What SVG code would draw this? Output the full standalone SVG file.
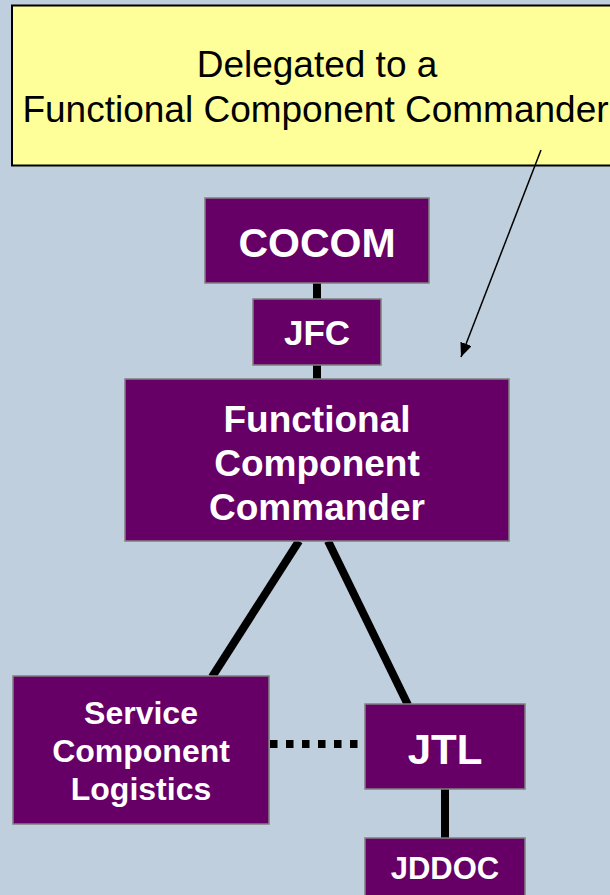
<svg xmlns="http://www.w3.org/2000/svg" width="610" height="895" viewBox="0 0 610 895">
<defs>
<style>
.node rect{fill:#660066;stroke:#808080;stroke-width:1.5}
.node text{fill:#ffffff;font-family:"Liberation Sans",Arial,sans-serif;font-weight:bold;text-anchor:middle}
.conn{stroke:#000000;stroke-width:8;fill:none}
.note text{fill:#000000;font-family:"Liberation Sans",Arial,sans-serif;font-size:37px;text-anchor:middle}
</style>
<marker id="ah" viewBox="0 0 14 12" refX="14" refY="6" markerWidth="14" markerHeight="12" markerUnits="userSpaceOnUse" orient="auto">
<path d="M0,0 L14,6 L0,12 z" fill="#000000"/>
</marker>
</defs>
<rect x="0" y="0" width="610" height="895" fill="#BFCFDE"/>
<g id="note" class="note">
<rect x="12" y="5.5" width="612" height="160" fill="#FFFF99" stroke="#000000" stroke-width="2"/>
<text x="317" y="77">Delegated to a</text>
<text x="315.5" y="122">Functional Component Commander</text>
</g>
<g id="connectors">
<line class="conn" x1="317" y1="283" x2="317" y2="300"/>
<line class="conn" x1="317" y1="365" x2="317" y2="380"/>
<line class="conn" x1="299" y1="541" x2="212" y2="677"/>
<line class="conn" x1="328" y1="541" x2="408" y2="705"/>
<line class="conn" x1="445" y1="789" x2="445" y2="839"/>
<line class="conn" x1="270" y1="744" x2="360" y2="744" stroke-dasharray="7.5 8.5"/>
<line x1="541" y1="150" x2="461" y2="357" stroke="#000000" stroke-width="1.5" marker-end="url(#ah)"/>
</g>
<g id="cocom" class="node">
<rect x="205" y="198" width="224" height="85"/>
<text x="317" y="257" font-size="41">COCOM</text>
</g>
<g id="jfc" class="node">
<rect x="253" y="299" width="128" height="66"/>
<text x="317" y="345" font-size="35">JFC</text>
</g>
<g id="fcc" class="node">
<rect x="125" y="379" width="384" height="162"/>
<text x="317" y="432" font-size="37">Functional</text>
<text x="317" y="476" font-size="37">Component</text>
<text x="317" y="520" font-size="37">Commander</text>
</g>
<g id="scl" class="node">
<rect x="13" y="676" width="256" height="148"/>
<text x="141" y="724" font-size="32">Service</text>
<text x="141" y="762" font-size="32">Component</text>
<text x="141" y="800" font-size="32">Logistics</text>
</g>
<g id="jtl" class="node">
<rect x="365" y="704" width="160" height="85"/>
<text x="445" y="764" font-size="42">JTL</text>
</g>
<g id="jddoc" class="node">
<rect x="365" y="838" width="160" height="70"/>
<text x="445" y="879" font-size="31">JDDOC</text>
</g>
</svg>
